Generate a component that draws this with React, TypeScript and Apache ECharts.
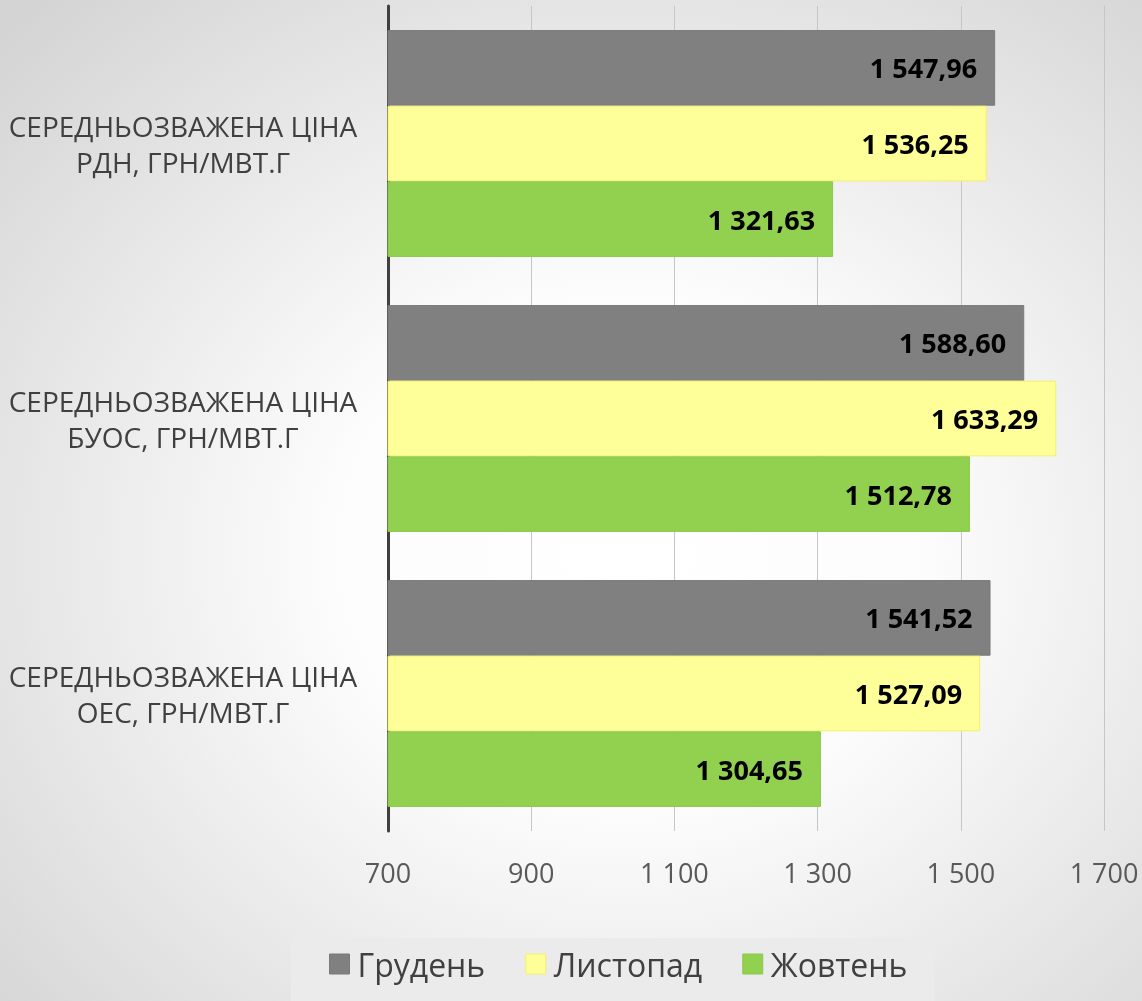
import React, { useEffect, useRef } from "react";
import * as echarts from "echarts";

const categories = [
  "СЕРЕДНЬОЗВАЖЕНА ЦІНА\nРДН, ГРН/МВТ.Г",
  "СЕРЕДНЬОЗВАЖЕНА ЦІНА\nБУОС, ГРН/МВТ.Г",
  "СЕРЕДНЬОЗВАЖЕНА ЦІНА\nОЕС, ГРН/МВТ.Г",
];
const seriesNames = ["Грудень", "Листопад", "Жовтень"];
const grudenValues = [1547.96, 1588.6, 1541.52];
const lystopadValues = [1536.25, 1633.29, 1527.09];
const zhovtenValues = [1321.63, 1512.78, 1304.65];
const xTicks = { min: 700, max: 1700, interval: 200 };

const FONT = "'Open Sans', 'Noto Sans', sans-serif";

function groupThousands(intPart: string): string {
  return intPart.replace(/\B(?=(\d{3})+(?!\d))/g, " ");
}
function fmtValue(v: number): string {
  const [i, d] = v.toFixed(2).split(".");
  return groupThousands(i) + "," + d;
}

export default function App() {
  const ref = useRef<HTMLDivElement>(null);
  useEffect(() => {
    if (!ref.current) return;
    const chart = echarts.init(ref.current, undefined, { renderer: "svg" });
    const colors = ["#808080", "#ffff99", "#92d050"];
    const borders = ["#7a7a7a", "#f2f26a", "#8cc84c"];
    const datas = [grudenValues, lystopadValues, zhovtenValues];
    chart.setOption({
      animation: false,
      backgroundColor: {
        type: "radial",
        x: 0.55,
        y: 0.55,
        r: 0.75,
        colorStops: [
          { offset: 0, color: "#ffffff" },
          { offset: 0.35, color: "#fcfcfc" },
          { offset: 1, color: "#d4d4d4" },
        ],
      },
      graphic: [
        {
          type: "rect",
          left: 291,
          top: 938,
          shape: { width: 644, height: 70 },
          style: { fill: "#ebebeb" },
          z: 0,
        },
      ],
      legend: {
        data: seriesNames,
        left: 329,
        top: 948,
        padding: 0,
        itemWidth: 20,
        itemHeight: 20,
        itemGap: 40,
        itemStyle: { borderWidth: 1 },
        textStyle: { fontFamily: FONT, fontSize: 32, color: "#404040", padding: [0, 0, 0, 3] },
        icon: "rect",
        z: 5,
      },
      grid: { left: 388, right: 38, top: 6, bottom: 170, containLabel: false },
      xAxis: {
        type: "value",
        min: xTicks.min,
        max: xTicks.max,
        interval: xTicks.interval,
        axisLine: { show: false },
        axisTick: { show: false },
        splitLine: { show: true, lineStyle: { color: "#c6c6c6", width: 1 } },
        axisLabel: {
          margin: 28,
          fontFamily: FONT,
          fontSize: 27,
          color: "#595959",
          formatter: (v: number) => groupThousands(String(v)),
        },
      },
      yAxis: {
        type: "category",
        data: categories,
        inverse: true,
        axisLine: { show: true, lineStyle: { color: "#404040", width: 3 } },
        axisTick: { show: false },
        axisLabel: {
          margin: 205,
          align: "center",
          lineHeight: 36,
          fontFamily: FONT,
          fontSize: 28,
          color: "#404040",
        },
      },
      series: seriesNames.map((name, i) => ({
        name,
        type: "bar",
        data: datas[i],
        barGap: "0%",
        barCategoryGap: "17.5%",
        itemStyle: { color: colors[i], borderColor: borders[i], borderWidth: 1 },
        label: {
          show: true,
          position: "insideRight",
          distance: 18,
          fontFamily: FONT,
          fontSize: 27,
          fontWeight: "bold",
          color: "#000000",
          formatter: (p: any) => fmtValue(p.value),
        },
      })),
    });
    return () => chart.dispose();
  }, []);
  return (
    <div
      ref={ref}
      style={{ position: "fixed", left: 0, top: 0, width: 1142, height: 1001 }}
    />
  );
}
